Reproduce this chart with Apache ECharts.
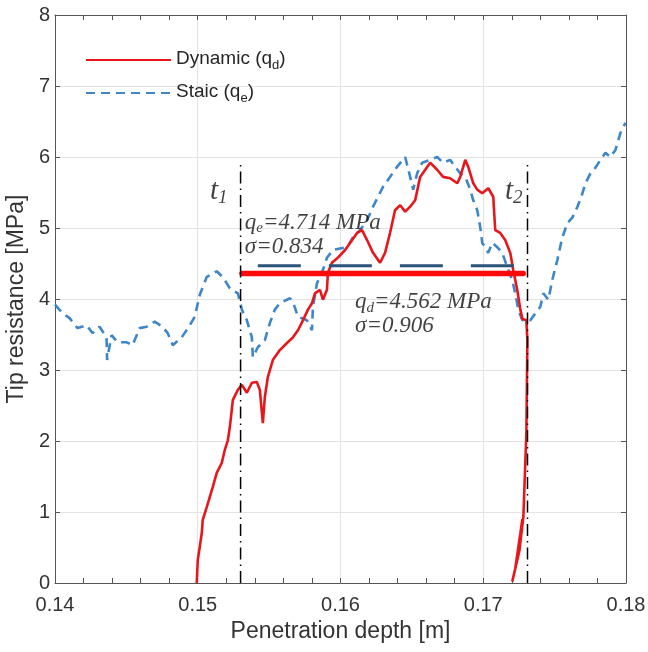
<!DOCTYPE html>
<html><head><meta charset="utf-8">
<script src="https://cdn.jsdelivr.net/npm/echarts@6/dist/echarts.min.js"></script>
<style>html,body{margin:0;padding:0;background:#fff}#c{width:648px;height:652px}</style>
</head><body><div id="c"></div>
<script>
// ---- data ----
const dynamicDepth = [0.14993,0.15000,0.15028,0.15035,0.15063,0.15084,0.15105,0.15133,0.15168,0.15189,0.15211,0.15225,0.15246,0.15281,0.15309,0.15344,0.15379,0.15414,0.15435,0.15456,0.15470,0.15491,0.15526,0.15575,0.15625,0.15667,0.15702,0.15737,0.15772,0.15800,0.15821,0.15856,0.15877,0.15905,0.15912,0.15940,0.15975,0.16032,0.16067,0.16116,0.16151,0.16186,0.16228,0.16277,0.16312,0.16347,0.16382,0.16418,0.16453,0.16488,0.16523,0.16558,0.16607,0.16628,0.16677,0.16719,0.16768,0.16818,0.16839,0.16874,0.16895,0.16930,0.16958,0.16993,0.17035,0.17070,0.17084,0.17119,0.17154,0.17189,0.17210,0.17238,0.17260,0.17274,0.17302,0.17309,0.17302,0.17281,0.17253,0.17203,0.17224,0.17260,0.17274];
const dynamicTip   = [0,0.32,0.70,0.89,1.07,1.21,1.35,1.55,1.69,1.87,2.01,2.20,2.58,2.72,2.79,2.68,2.82,2.83,2.72,2.25,2.62,2.90,3.14,3.28,3.38,3.46,3.56,3.70,3.85,3.94,4.08,4.13,3.99,4.13,4.37,4.51,4.57,4.69,4.79,4.93,4.97,4.83,4.65,4.51,4.65,4.93,5.25,5.32,5.23,5.30,5.39,5.72,5.86,5.92,5.82,5.72,5.70,5.63,5.72,5.96,5.86,5.63,5.54,5.49,5.56,5.44,4.97,4.93,4.83,4.65,4.41,4.13,3.85,3.72,3.70,3.42,2.11,0.93,0.45,0.02,0.20,0.70,0.90];
const staticDepth = [0.14000,0.14053,0.14102,0.14158,0.14221,0.14263,0.14312,0.14361,0.14365,0.14396,0.14439,0.14502,0.14544,0.14593,0.14642,0.14698,0.14754,0.14789,0.14825,0.14888,0.14944,0.14979,0.15014,0.15063,0.15133,0.15175,0.15225,0.15281,0.15309,0.15344,0.15379,0.15386,0.15421,0.15470,0.15505,0.15540,0.15575,0.15646,0.15667,0.15702,0.15765,0.15800,0.15807,0.15835,0.15877,0.15905,0.15947,0.16046,0.16088,0.16137,0.16186,0.16228,0.16263,0.16298,0.16347,0.16396,0.16453,0.16488,0.16509,0.16537,0.16572,0.16628,0.16677,0.16719,0.16768,0.16804,0.16839,0.16874,0.16909,0.16930,0.16958,0.16979,0.16993,0.17014,0.17035,0.17063,0.17098,0.17133,0.17168,0.17203,0.17224,0.17246,0.17274,0.17330,0.17365,0.17400,0.17421,0.17456,0.17484,0.17519,0.17554,0.17590,0.17625,0.17660,0.17695,0.17716,0.17751,0.17786,0.17821,0.17856,0.17891,0.17926,0.17961,0.17996];
const staticTip   = [3.92,3.80,3.73,3.59,3.63,3.52,3.61,3.46,3.14,3.49,3.39,3.39,3.35,3.59,3.61,3.68,3.61,3.52,3.35,3.46,3.63,3.75,4.06,4.31,4.39,4.31,4.15,4.08,3.85,3.70,3.46,3.18,3.32,3.42,3.66,3.85,3.94,4.01,3.96,3.75,3.70,3.56,3.89,4.22,4.41,4.58,4.69,4.73,4.87,4.97,5.11,5.30,5.44,5.58,5.72,5.86,6.00,5.72,5.54,5.77,5.92,5.96,6.00,5.92,5.96,5.86,5.77,5.72,5.54,5.39,5.25,5.01,4.79,4.73,4.65,4.79,4.73,4.65,4.45,4.27,4.08,3.85,3.70,3.70,3.80,3.89,4.08,3.99,4.27,4.55,4.87,5.07,5.15,5.30,5.49,5.63,5.77,5.85,5.96,6.06,6.00,6.10,6.34,6.48];
const xTickLabels = ['0.14','0.15','0.16','0.17','0.18'];
const yTickLabels = ['0','1','2','3','4','5','6','7','8'];
const t1 = 0.1530, t2 = 0.1731, markerTop = 5.93;
const qdLine = [0.1531, 0.1728, 4.36];      // start, end, level (drawn mean line)
const qeLine = [0.15421, 0.17224, 4.47];
const seriesNames = ['Dynamic (qd)', 'Staic (qe)'];

const zip = (a, b) => a.map((v, i) => [v, b[i]]);
const chart = echarts.init(document.getElementById('c'), null, {renderer: 'canvas'});
const axisColor = '#555';
const txtColor = '#262626';
const serif = "'Liberation Serif', 'Times New Roman', serif";
const sans = "'Liberation Sans', Arial, sans-serif";

function xAxisCfg(pos) {
  const bottom = pos === 'bottom';
  return {
    type: 'value', position: pos, min: 0.14, max: 0.18, interval: 0.01,
    axisLine: {show: true, onZero: false, lineStyle: {color: axisColor, width: 1}},
    axisTick: {show: true, inside: true, length: 5, lineStyle: {color: axisColor}},
    minorTick: {show: true, splitNumber: 5, length: 5, lineStyle: {color: axisColor}},
    splitLine: {show: bottom, lineStyle: {color: '#e3e3e3', width: 1}},
    axisLabel: {show: bottom, fontSize: 20, color: '#333', fontFamily: sans, margin: 12,
      formatter: v => xTickLabels[Math.round((v - 0.14) / 0.01)]},
    name: bottom ? 'Penetration depth [m]' : '', nameLocation: 'middle', nameGap: 35,
    nameTextStyle: {fontSize: 23, color: '#333', fontFamily: sans}
  };
}
function yAxisCfg(pos) {
  const left = pos === 'left';
  return {
    type: 'value', position: pos, min: 0, max: 8, interval: 1,
    axisLine: {show: true, onZero: false, lineStyle: {color: axisColor, width: 1}},
    axisTick: {show: true, inside: true, length: 5, lineStyle: {color: axisColor}},
    splitLine: {show: left, lineStyle: {color: '#e3e3e3', width: 1}},
    axisLabel: {show: left, fontSize: 20, color: '#333', fontFamily: sans, margin: 5,
      formatter: v => yTickLabels[Math.round(v)]},
    name: left ? 'Tip resistance [MPa]' : '', nameLocation: 'middle', nameGap: 21,
    nameTextStyle: {fontSize: 23, color: '#333', fontFamily: sans}
  };
}

const annRich = {
  t: {fontFamily: serif, fontStyle: 'italic', fontSize: 29, color: '#111', verticalAlign: 'top', lineHeight: 30},
  ts: {fontFamily: serif, fontStyle: 'italic', fontSize: 19, color: '#111', verticalAlign: 'top', lineHeight: 19, padding: [12, 0, 0, 0]},
  m: {fontFamily: serif, fontStyle: 'italic', fontSize: 23, color: '#111', verticalAlign: 'top', lineHeight: 24},
  ms: {fontFamily: serif, fontStyle: 'italic', fontSize: 15, color: '#111', verticalAlign: 'top', lineHeight: 15, padding: [10, 0, 0, 0]}
};
const annotations = [
  {value: [0.15085, 5.51], text: '{t|t}{ts|1}'},
  {value: [0.17152, 5.51], text: '{t|t}{ts|2}'},
  {value: [0.15330, 5.07], text: '{m|q}{ms|e}{m|=4.714 MPa}'},
  {value: [0.15330, 4.73], text: '{m|σ=0.834}'},
  {value: [0.16102, 3.95], text: '{m|q}{ms|d}{m|=4.562 MPa}'},
  {value: [0.16102, 3.62], text: '{m|σ=0.906}'}
];

const option = {
  backgroundColor: '#fff',
  animation: false,
  grid: {left: 55, right: 22, top: 15, bottom: 69, outerBoundsMode: 'none', containLabel: false},
  xAxis: [xAxisCfg('bottom'), xAxisCfg('top')],
  yAxis: [yAxisCfg('left'), yAxisCfg('right')],
  legend: {
    data: seriesNames, orient: 'vertical', left: 80, top: 44,
    itemWidth: 85, itemHeight: 14, itemGap: 10,
    itemStyle: {opacity: 0},
    textStyle: {color: txtColor, fontFamily: sans,
      rich: {
        n: {fontSize: 19, fontFamily: sans, color: txtColor, verticalAlign: 'top', lineHeight: 22},
        s: {fontSize: 13, fontFamily: sans, color: txtColor, verticalAlign: 'top', lineHeight: 13, padding: [10, 0, 0, 0]}
      }},
    formatter: name => name === seriesNames[0] ? '{n|Dynamic (q}{s|d}{n|)}' : '{n|Staic (q}{s|e}{n|)}'
  },
  series: [
    {name: seriesNames[1], type: 'line', data: zip(staticDepth, staticTip), symbol: 'none', z: 2,
      lineStyle: {color: '#3d86c8', width: 2.6, type: [9, 6]}, itemStyle: {color: '#3d86c8'}},
    {name: seriesNames[0], type: 'line', data: zip(dynamicDepth, dynamicTip), symbol: 'none', z: 3,
      lineStyle: {color: '#e8161b', width: 2.6}, itemStyle: {color: '#e8161b'}},
    {type: 'line', data: [[qeLine[0], qeLine[2]], [qeLine[1], qeLine[2]]], symbol: 'none', z: 4, silent: true,
      lineStyle: {color: '#2b5279', width: 3, type: [43, 28]}},
    {type: 'line', data: [[qdLine[0], qdLine[2]], [qdLine[1], qdLine[2]]], symbol: 'none', z: 5, silent: true,
      lineStyle: {color: '#ff0a0a', width: 5.5, cap: 'round'}},
    {type: 'line', data: [[t1, 0], [t1, markerTop]], symbol: 'none', z: 6, silent: true,
      lineStyle: {color: '#000', width: 1.5, type: [12, 5, 1.5, 5]}},
    {type: 'line', data: [[t2, 0], [t2, markerTop]], symbol: 'none', z: 6, silent: true,
      lineStyle: {color: '#000', width: 1.5, type: [12, 5, 1.5, 5]}},
    {type: 'scatter', symbolSize: 0, z: 7, silent: true,
      data: annotations.map(a => ({value: a.value, label: {formatter: a.text}})),
      label: {show: true, position: 'right', distance: 0, rich: annRich}}
  ]
};
chart.setOption(option);
</script></body></html>
